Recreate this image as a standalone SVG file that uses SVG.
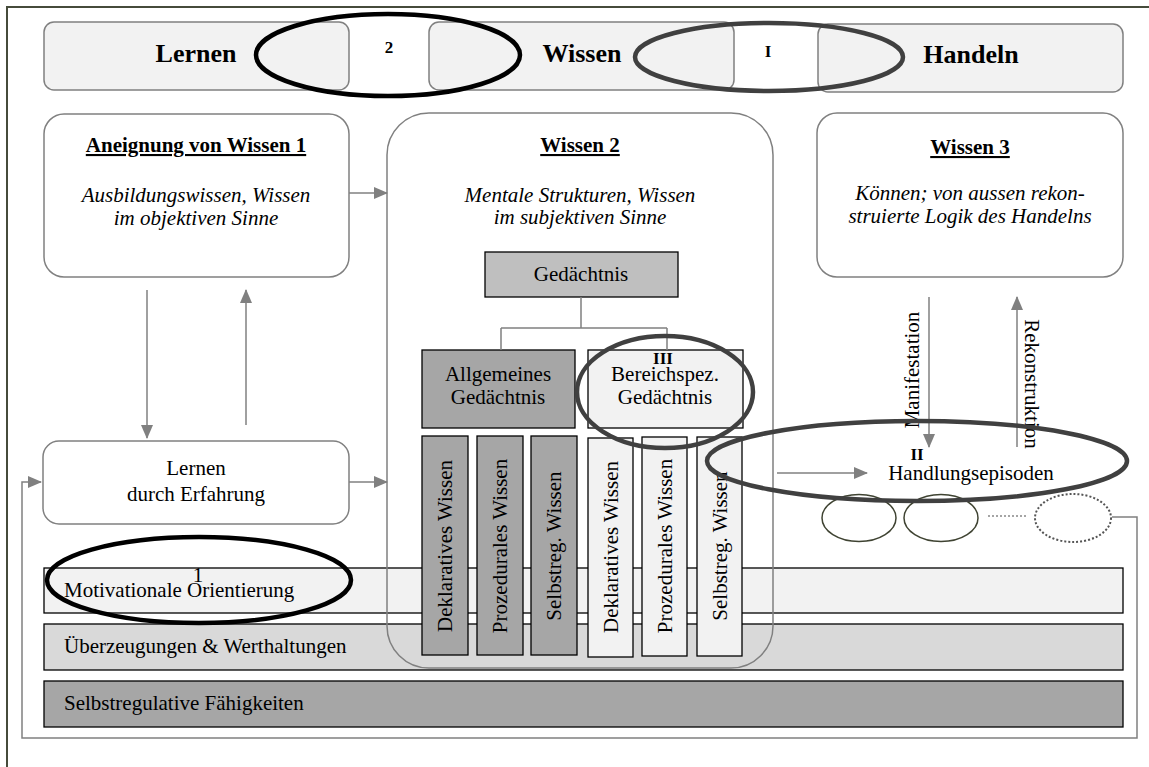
<svg xmlns="http://www.w3.org/2000/svg" width="1149" height="767" viewBox="0 0 1149 767" font-family="'Liberation Serif', Tinos, 'Times New Roman', 'DejaVu Serif', serif">
  <style>
    text { font-family: 'Liberation Serif', Tinos, 'Times New Roman', 'DejaVu Serif', serif; fill: #000; }
    .head { font-size: 26px; font-weight: bold; }
    .title { font-size: 21px; font-weight: bold; text-decoration: underline; }
    .it { font-size: 21px; font-style: italic; }
    .t { font-size: 21px; }
    .mark { font-size: 17px; font-weight: bold; }
    .tab { fill: #f2f2f2; stroke: #808080; stroke-width: 1.5; }
    .box { fill: #ffffff; stroke: #808080; stroke-width: 1.5; }
    .blk { stroke: #000; stroke-width: 1.3; }
    .conn { stroke: #808080; stroke-width: 1.5; fill: none; }
    .ring { fill: none; stroke-width: 4.5; }
  </style>
  <defs>
    <marker id="arr" markerUnits="userSpaceOnUse" markerWidth="14" markerHeight="12" refX="13" refY="6" orient="auto">
      <path d="M0,0 L14,6 L0,12 z" fill="#808080"/>
    </marker>
  </defs>

  <rect width="1149" height="767" fill="#ffffff"/>

  <!-- outer frame -->
  <g id="frame">
    <path d="M7,767 L7,7 L1149,7" fill="none" stroke="#464b3b" stroke-width="2"/>
  </g>

  <!-- header tabs -->
  <g id="tab-lernen">
    <rect class="tab" x="44" y="22" width="305" height="68" rx="10"/>
    <text class="head" x="196" y="62" text-anchor="middle">Lernen</text>
  </g>
  <g id="tab-wissen">
    <rect class="tab" x="429" y="22" width="305" height="68" rx="10"/>
    <text class="head" x="582" y="62" text-anchor="middle">Wissen</text>
  </g>
  <g id="tab-handeln">
    <rect class="tab" x="818" y="24" width="305" height="68" rx="10"/>
    <text class="head" x="971" y="63" text-anchor="middle">Handeln</text>
  </g>

  <!-- background bands -->
  <g id="band-motivation">
    <rect class="blk" x="44" y="568" width="1079" height="45" fill="#f2f2f2"/>
    <text class="t" x="64" y="597">Motivationale Orientierung</text>
  </g>
  <g id="band-ueberzeugungen">
    <rect class="blk" x="44" y="624" width="1079" height="46" fill="#d9d9d9"/>
    <text class="t" x="64" y="653">Überzeugungen &amp; Werthaltungen</text>
  </g>
  <g id="band-selbstregulation">
    <rect class="blk" x="44" y="681" width="1079" height="46" fill="#a6a6a6"/>
    <text class="t" x="64" y="710">Selbstregulative Fähigkeiten</text>
  </g>

  <!-- knowledge boxes -->
  <g id="aneignung">
    <rect class="box" x="44" y="114" width="305" height="163" rx="20"/>
    <text class="title" x="196" y="152" text-anchor="middle">Aneignung von Wissen 1</text>
    <text class="it" x="196" y="202" text-anchor="middle">Ausbildungswissen, Wissen</text>
    <text class="it" x="196" y="225" text-anchor="middle">im objektiven Sinne</text>
  </g>
  <g id="wissen2">
    <rect x="387" y="113" width="386" height="555" rx="42" fill="none" stroke="#808080" stroke-width="1.5"/>
    <text class="title" x="580" y="152" text-anchor="middle">Wissen 2</text>
    <text class="it" x="580" y="202" text-anchor="middle">Mentale Strukturen, Wissen</text>
    <text class="it" x="580" y="224" text-anchor="middle">im subjektiven Sinne</text>
  </g>
  <g id="wissen3">
    <rect class="box" x="817" y="113" width="306" height="164" rx="20"/>
    <text class="title" x="970" y="154" text-anchor="middle">Wissen 3</text>
    <text class="it" x="970" y="200" text-anchor="middle">Können; von aussen rekon-</text>
    <text class="it" x="970" y="223" text-anchor="middle">struierte Logik des Handelns</text>
  </g>
  <g id="lernen-erfahrung">
    <rect class="box" x="43" y="441" width="306" height="83" rx="16"/>
    <text class="t" x="196" y="475" text-anchor="middle">Lernen</text>
    <text class="t" x="196" y="501" text-anchor="middle">durch Erfahrung</text>
  </g>

  <!-- memory structure -->
  <g id="gedaechtnis">
    <rect class="blk" x="485" y="252" width="193" height="45" fill="#bfbfbf"/>
    <text class="t" x="581" y="281" text-anchor="middle">Gedächtnis</text>
  </g>
  <g id="allgemeines">
    <rect class="blk" x="422" y="350" width="153" height="78" fill="#a6a6a6"/>
    <text class="t" x="498" y="381" text-anchor="middle">Allgemeines</text>
    <text class="t" x="498" y="404" text-anchor="middle">Gedächtnis</text>
  </g>
  <g id="bereichspez">
    <rect class="blk" x="588" y="350" width="155" height="78" fill="#f2f2f2"/>
    <text class="t" x="665" y="381" text-anchor="middle">Bereichspez.</text>
    <text class="t" x="665" y="404" text-anchor="middle">Gedächtnis</text>
  </g>

  <g id="col-dekl-a">
    <rect class="blk" x="422" y="436" width="46" height="219" fill="#a6a6a6"/>
    <text class="t" x="445" y="546" text-anchor="middle" dominant-baseline="central" transform="rotate(-90 445 546)">Deklaratives Wissen</text>
  </g>
  <g id="col-proz-a">
    <rect class="blk" x="477" y="436" width="46" height="219" fill="#a6a6a6"/>
    <text class="t" x="500" y="546" text-anchor="middle" dominant-baseline="central" transform="rotate(-90 500 546)">Prozedurales Wissen</text>
  </g>
  <g id="col-selbst-a">
    <rect class="blk" x="531" y="436" width="46" height="219" fill="#a6a6a6"/>
    <text class="t" x="554" y="546" text-anchor="middle" dominant-baseline="central" transform="rotate(-90 554 546)">Selbstreg. Wissen</text>
  </g>
  <g id="col-dekl-b">
    <rect class="blk" x="588" y="438" width="45" height="219" fill="#f2f2f2"/>
    <text class="t" x="610.5" y="547" text-anchor="middle" dominant-baseline="central" transform="rotate(-90 610.5 547)">Deklaratives Wissen</text>
  </g>
  <g id="col-proz-b">
    <rect class="blk" x="642" y="437" width="45" height="219" fill="#f2f2f2"/>
    <text class="t" x="664.5" y="546" text-anchor="middle" dominant-baseline="central" transform="rotate(-90 664.5 546)">Prozedurales Wissen</text>
  </g>
  <g id="col-selbst-b">
    <rect class="blk" x="697" y="437" width="45" height="219" fill="#f2f2f2"/>
    <text class="t" x="719.5" y="546" text-anchor="middle" dominant-baseline="central" transform="rotate(-90 719.5 546)">Selbstreg. Wissen</text>
  </g>

  <!-- action episodes -->
  <g id="handlungsepisoden">
    <text class="t" x="971" y="480" text-anchor="middle">Handlungsepisoden</text>
  </g>
  <g id="episode-1">
    <ellipse cx="859" cy="518" rx="37" ry="23.5" fill="none" stroke="#3f4332" stroke-width="1.5"/>
  </g>
  <g id="episode-2">
    <ellipse cx="941" cy="518" rx="37" ry="23.5" fill="none" stroke="#3f4332" stroke-width="1.5"/>
  </g>
  <g id="episode-n">
    <ellipse cx="1073" cy="518" rx="38" ry="24" fill="none" stroke="#555" stroke-width="2" stroke-dasharray="2 2"/>
  </g>

  <!-- connectors -->
  <g id="connectors">
    <path class="conn" d="M581,297 L581,328 M501,328 L667,328 M501,328 L501,350 M667,328 L667,350"/>
    <line class="conn" x1="147" y1="290" x2="147" y2="438" marker-end="url(#arr)"/>
    <line class="conn" x1="246" y1="425" x2="246" y2="290" marker-end="url(#arr)"/>
    <line class="conn" x1="349" y1="193" x2="387" y2="193" marker-end="url(#arr)"/>
    <line class="conn" x1="349" y1="482" x2="387" y2="482" marker-end="url(#arr)"/>
    <line class="conn" x1="777" y1="473" x2="867" y2="473" marker-end="url(#arr)"/>
    <line class="conn" x1="929" y1="297" x2="929" y2="447" marker-end="url(#arr)"/>
    <line class="conn" x1="1017" y1="447" x2="1017" y2="297" marker-end="url(#arr)"/>
    <line x1="988" y1="516" x2="1028" y2="516" stroke="#888" stroke-width="1.5" stroke-dasharray="2 2"/>
    <path class="conn" d="M1112,517 L1137,517 L1137,738 L22,738 L22,482 L41,482" marker-end="url(#arr)"/>
    <text class="t" x="912" y="370" text-anchor="middle" dominant-baseline="central" transform="rotate(-90 912 370)">Manifestation</text>
    <text class="t" x="1032" y="384" text-anchor="middle" dominant-baseline="central" transform="rotate(90 1032 384)">Rekonstruktion</text>
  </g>

  <!-- highlight rings with their labels -->
  <g id="ring-2">
    <ellipse class="ring" cx="388" cy="55" rx="132" ry="41" stroke="#000"/>
    <text class="mark" x="389" y="53" text-anchor="middle">2</text>
  </g>
  <g id="ring-I">
    <ellipse class="ring" cx="769" cy="57" rx="134" ry="34" stroke="#404040"/>
    <text class="mark" x="768" y="57" text-anchor="middle">I</text>
  </g>
  <g id="ring-III">
    <ellipse class="ring" cx="665" cy="392" rx="88" ry="56" stroke="#404040"/>
    <text class="mark" x="663" y="364" text-anchor="middle" font-size="19">III</text>
  </g>
  <g id="ring-II">
    <ellipse class="ring" cx="917" cy="461" rx="210" ry="40" stroke="#404040"/>
    <text class="mark" x="917" y="460" text-anchor="middle" font-size="20">II</text>
  </g>
  <g id="ring-1">
    <ellipse class="ring" cx="199" cy="580" rx="152" ry="43" stroke="#000"/>
    <text class="t" x="198" y="582" text-anchor="middle">1</text>
  </g>
</svg>
